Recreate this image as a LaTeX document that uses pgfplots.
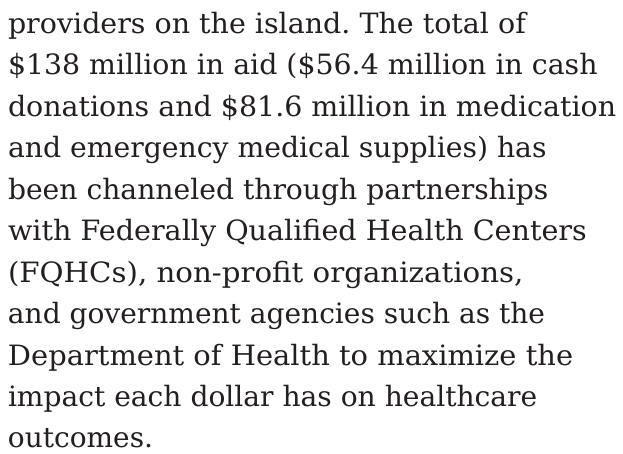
\documentclass[border=0pt]{standalone}
\usepackage{pgfplots}
\pgfplotsset{compat=1.18}
\usepackage{fontspec}
\setmainfont{DejaVu Serif}
\frenchspacing
\definecolor{txt}{RGB}{35,31,32}
\tikzset{ln/.style={anchor=base west,inner sep=0pt,outer sep=0pt,text=txt,font=\fontsize{28}{28}\selectfont}}
\begin{document}
\begin{tikzpicture}
\begin{axis}[at={(0,0)},anchor=south west,scale only axis,width=623pt,height=453pt,
  xmin=0,xmax=623,ymin=0,ymax=453,y dir=reverse,axis lines=none,clip=false]
\node[ln,xscale=1.018] at (axis cs:8,33) {providers on the island. The total of};
\node[ln,xscale=1.014] at (axis cs:8,74.5) {\$138 million in aid (\$56.4 million in cash};
\node[ln,xscale=1.017] at (axis cs:8,116) {donations and \$81.6 million in medication};
\node[ln,xscale=1.009] at (axis cs:8,157.5) {and emergency medical supplies) has};
\node[ln,xscale=1.007] at (axis cs:8,199) {been channeled through partnerships};
\node[ln,xscale=1.021] at (axis cs:8,240.5) {with Federally Qualified Health Centers};
\node[ln,xscale=1.045] at (axis cs:8,282) {(FQHCs), non-profit organizations,};
\node[ln,xscale=1.002] at (axis cs:8,323.5) {and government agencies such as the};
\node[ln,xscale=1.033] at (axis cs:8,365) {Department of Health to maximize the};
\node[ln,xscale=1.004] at (axis cs:8,406.5) {impact each dollar has on healthcare};
\node[ln] at (axis cs:8,447.5) {outcomes.};
\end{axis}
\pgfresetboundingbox
\path (0,0) rectangle (623pt,453pt);
\end{tikzpicture}
\end{document}
